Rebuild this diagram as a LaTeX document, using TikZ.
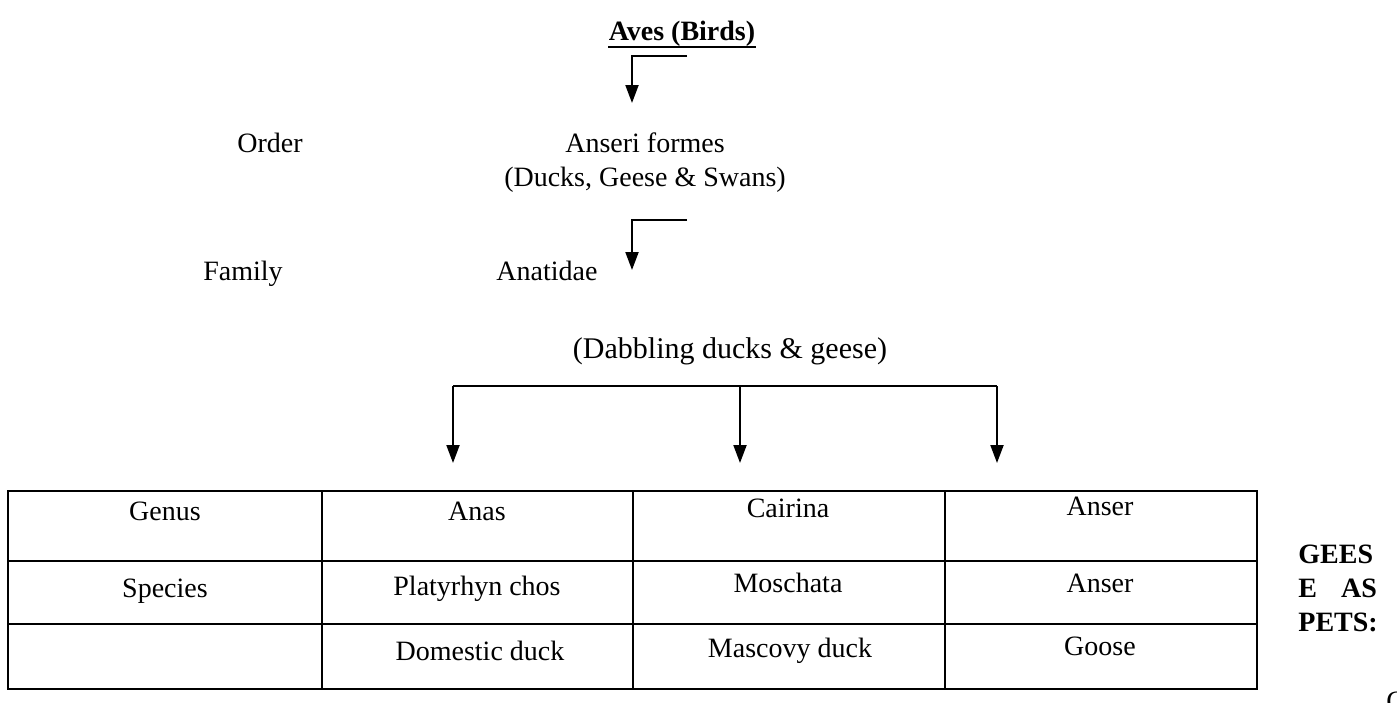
\documentclass[tikz,border=0pt]{standalone}
\usepackage{fontspec}
\setmainfont{Liberation Serif}
\usetikzlibrary{arrows.meta}
\tikzset{
  txt/.style={inner sep=0pt, anchor=base, font=\fontsize{14}{16}\selectfont},
  btxt/.style={txt, font=\fontsize{14}{16}\selectfont\bfseries},
  arr/.style={line width=1pt, -{Triangle[length=9pt,width=6.5pt]}},
  grid/.style={line width=0.9pt}
}
\begin{document}
\begin{tikzpicture}[x=0.5pt,y=-0.5pt]
\useasboundingbox (0,0) rectangle (1397,702);
% titles
\node[btxt] (aves) at (682,40) {Aves (Birds)};
\draw[line width=1.3pt] ([yshift=-3.5pt]aves.base west) -- ([yshift=-3.5pt]aves.base east);
\node[txt] (order) at (270,152) {Order};
\node[txt] (anseri) at (645,152) {Anseri formes};
\node[txt] (ducks) at (645,186) {(Ducks, Geese \& Swans)};
\node[txt] (family) at (243,280) {Family};
\node[txt] (anat) at (547,280) {Anatidae};
\node[txt, font=\fontsize{15}{17}\selectfont] (dabb) at (730,358) {(Dabbling ducks \& geese)};
% arrows
\coordinate (s1) at (687,56);
\coordinate (t1) at (632,103);
\draw[arr] (s1) -| (t1);
\coordinate (s2) at (687,220);
\coordinate (t2) at (632,270);
\draw[arr] (s2) -| (t2);
\coordinate (hl) at (453,386);
\coordinate (hm) at (740,386);
\coordinate (hr) at (997,386);
\coordinate (tl) at (453,463);
\coordinate (tm) at (740,463);
\coordinate (tr) at (997,463);
\draw[line width=1pt] (hl) -- (hr);
\draw[arr] (hl) -- (tl);
\draw[arr] (hm) -- (tm);
\draw[arr] (hr) -- (tr);
% table
\draw[grid] (8,491) rectangle (1257,689);
\draw[grid] (8,561) -- (1257,561);
\draw[grid] (8,624) -- (1257,624);
\draw[grid] (322,491) -- (322,689);
\draw[grid] (633,491) -- (633,689);
\draw[grid] (945,491) -- (945,689);
\node[txt] (genus) at (165,520) {Genus};
\node[txt] (anas) at (477,520) {Anas};
\node[txt] (cairina) at (788,517) {Cairina};
\node[txt] (anser1) at (1100,515) {Anser};
\node[txt] (species) at (165,597) {Species};
\node[txt] (platy) at (477,595) {Platyrhyn chos};
\node[txt] (mosch) at (788,592) {Moschata};
\node[txt] (anser2) at (1100,592) {Anser};
\node[txt] (dom) at (480,660) {Domestic duck};
\node[txt] (masc) at (790,657) {Mascovy duck};
\node[txt] (goose) at (1100,655) {Goose};
% side text
\node[btxt, anchor=base west] (g1) at (1298,563) {GEES};
\node[btxt, anchor=base west] (g2) at (1298,597) {E\hspace{12pt}AS};
\node[btxt, anchor=base west] (g3) at (1298,631) {PETS:};
\node[txt, anchor=base west] (g4) at (1386,710) {G};
\end{tikzpicture}
\end{document}
